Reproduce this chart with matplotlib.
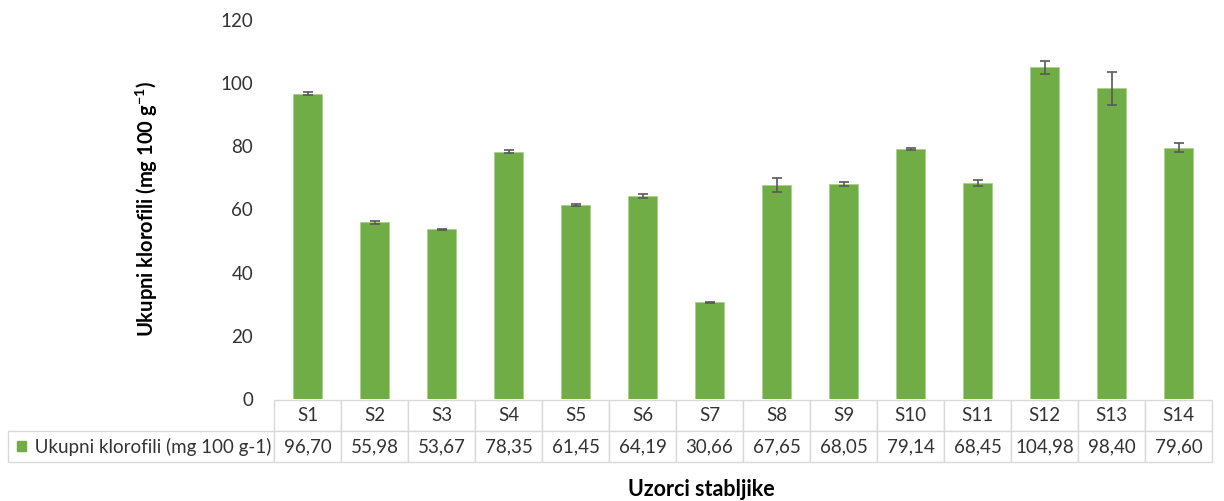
import numpy as np
import matplotlib
matplotlib.use("Agg")
import matplotlib.pyplot as plt
from matplotlib.patches import Rectangle

plt.rcParams['font.family'] = ['Lato', 'DejaVu Sans']
plt.rcParams['mathtext.fontset'] = 'custom'
plt.rcParams['mathtext.rm'] = 'Lato'
plt.rcParams['mathtext.bf'] = 'Lato:bold'

# data
samples = ['S1', 'S2', 'S3', 'S4', 'S5', 'S6', 'S7', 'S8', 'S9', 'S10', 'S11', 'S12', 'S13', 'S14']
chlorophyll = [96.70, 55.98, 53.67, 78.35, 61.45, 64.19, 30.66, 67.65, 68.05, 79.14, 68.45, 104.98, 98.40, 79.60]
errors = [0.5, 0.5, 0.3, 0.4, 0.4, 0.7, 0.2, 2.2, 0.5, 0.3, 0.9, 2.0, 5.2, 1.4]
series_name = 'Ukupni klorofili (mg 100 g-1)'
yticks = [0, 20, 40, 60, 80, 100, 120]

green = '#70ad47'
text_col = '#333333'
grid_col = '#d9d9d9'

fig = plt.figure(figsize=(12.24, 5.01), dpi=100, facecolor='white')
W, H = 1224, 501
ax_l, ax_r, ax_t, ax_b = 274, 1212, 20, 399
ax = fig.add_axes([ax_l / W, 1 - ax_b / H, (ax_r - ax_l) / W, (ax_b - ax_t) / H])

x = np.arange(len(samples))
ax.bar(x, chlorophyll, width=0.42, color=green, edgecolor='#a9d18e', linewidth=0.6,
       yerr=errors, error_kw=dict(ecolor='#595959', elinewidth=1.2, capsize=3.5, capthick=1.2))

ax.set_xlim(-0.5, len(samples) - 0.5)
ax.set_ylim(0, 120)
ax.set_yticks(yticks)
ax.set_yticklabels([str(t) for t in yticks], fontsize=13.5, color=text_col)
ax.set_xticks([])
ax.tick_params(axis='y', length=0, pad=15)
for s in ax.spines.values():
    s.set_visible(False)

ax.set_ylabel(r'Ukupni klorofili (mg 100 g$^{\mathbf{-1}}$)', fontsize=14.5,
              fontweight='bold', color='black')
ax.yaxis.set_label_coords((160 - ax_l) / (ax_r - ax_l), 0.5)

# data table under the bars
ax_w = ax_r - ax_l
ax_h = ax_b - ax_t
row_label_w = (ax_l - 8) / ax_w
values_txt = [f'{v:.2f}'.replace('.', ',') for v in chlorophyll]
cell_text = [[''] + samples, ['     ' + series_name] + values_txt]
col_w = [row_label_w] + [1 / len(samples)] * len(samples)
tbl = ax.table(cellText=cell_text, colWidths=col_w, cellLoc='center',
               bbox=[-row_label_w, -(462 - ax_b) / ax_h, 1 + row_label_w, (462 - 400) / ax_h])
tbl.auto_set_font_size(False)
tbl.set_fontsize(13.5)
for (r, c), cell in tbl.get_celld().items():
    cell.set_edgecolor(grid_col)
    cell.set_linewidth(1.0)
    cell.get_text().set_color(text_col)
    if r == 0 and c == 0:
        cell.visible_edges = ''
    if r == 1 and c == 0:
        cell.get_text().set_ha('left')
        cell.PAD = 0.01

# legend key inside the row label cell
ax.add_patch(Rectangle(((17 - ax_l) / ax_w, -(451 - ax_b) / ax_h), 9 / ax_w, 10 / ax_h,
                       transform=ax.transAxes, color=green, clip_on=False))

fig.text(701 / W, 1 - 489 / H, 'Uzorci stabljike', fontsize=15.5, fontweight='bold',
         ha='center', va='center', color='black')

fig.savefig('out.png', dpi=100, facecolor='white')
